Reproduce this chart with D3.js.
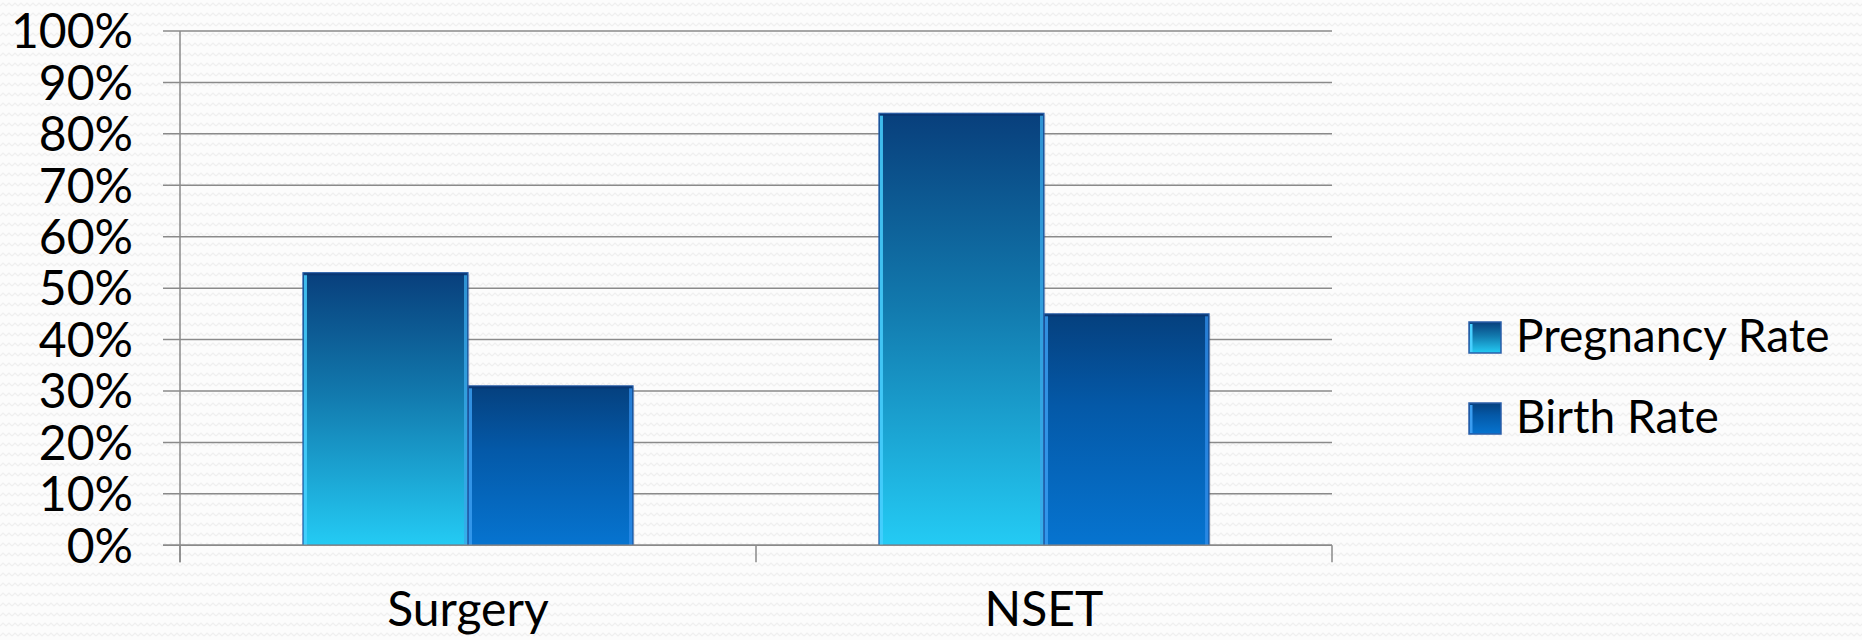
<!DOCTYPE html>
<html><head><meta charset="utf-8">
<script src="https://cdn.jsdelivr.net/npm/d3@7"></script>
<style>
html,body{margin:0;padding:0;background:#fbfbfb;}
svg{display:block;}
text{font-family:Lato,"Open Sans",sans-serif;fill:#000;}
</style></head>
<body>
<svg id="chart" width="1862" height="640"></svg>
<script>
const categories = ["Surgery", "NSET"];
const seriesNames = ["Pregnancy Rate", "Birth Rate"];
const pregnancyRate = [0.53, 0.84];
const birthRate = [0.31, 0.45];
const yTicks = [0, 0.1, 0.2, 0.3, 0.4, 0.5, 0.6, 0.7, 0.8, 0.9, 1.0];

const series = [pregnancyRate, birthRate];
const svg = d3.select("#chart");
const W = 1862, H = 640;
const m = {left: 180, right: 1332, top: 31, bottom: 545.3};

const defs = svg.append("defs");
// subtle zigzag background pattern
const pat = defs.append("pattern").attr("id","bgpat").attr("width",12).attr("height",10)
  .attr("patternUnits","userSpaceOnUse");
pat.append("rect").attr("width",12).attr("height",10).attr("fill","#fcfcfc");
pat.append("path").attr("d","M0,6 L3,3 L6,6 L9,3 L12,6").attr("fill","none")
  .attr("stroke","#efefef").attr("stroke-width",1.2);
svg.append("rect").attr("width",W).attr("height",H).attr("fill","url(#bgpat)");

const gradStops = [
  [["0%","#083f7c"],["45%","#127aae"],["100%","#24cbf4"]],
  [["0%","#05407e"],["40%","#0459a8"],["100%","#0674d0"]]
];
gradStops.forEach((st,i)=>{
  const g = defs.append("linearGradient").attr("id","g"+i).attr("x1",0).attr("y1",0).attr("x2",0).attr("y2",1);
  st.forEach(s=>g.append("stop").attr("offset",s[0]).attr("stop-color",s[1]));
});

const x0 = d3.scaleBand().domain(categories).range([m.left, m.right]).paddingInner(0).paddingOuter(0);
const x1 = d3.scaleBand().domain(seriesNames).range([0, x0.bandwidth()]).paddingOuter(0.745).paddingInner(0);
const y = d3.scaleLinear().domain([0,1]).range([m.bottom, m.top]);

// gridlines
svg.append("g").selectAll("line").data(yTicks).join("line")
  .attr("x1", m.left-17).attr("x2", m.right)
  .attr("y1", d=>y(d)).attr("y2", d=>y(d))
  .attr("stroke","#8a8a8a").attr("stroke-width",1.5);

// y axis labels
const yAxis = d3.axisLeft(y).tickValues(yTicks).tickFormat(d3.format(".0%")).tickSize(0).tickPadding(0);
const ga = svg.append("g").attr("transform",`translate(${m.left-47},0)`).call(yAxis);
ga.select(".domain").remove();
ga.selectAll("text").attr("font-size",48).attr("fill","#000").attr("dy","0.35em")
  .style("font-family","Lato, sans-serif");

// vertical axis
svg.append("line").attr("x1",m.left).attr("x2",m.left).attr("y1",m.top).attr("y2",m.bottom+17)
  .attr("stroke","#8a8a8a").attr("stroke-width",1.5);
// category ticks
const catTicks = [m.left, ...categories.map(c=>x0(c)+x0.bandwidth())];
svg.append("g").selectAll("line").data(catTicks).join("line")
  .attr("x1",d=>d).attr("x2",d=>d).attr("y1",m.bottom).attr("y2",m.bottom+17)
  .attr("stroke","#8a8a8a").attr("stroke-width",1.5);

// bars
const groups = svg.append("g").selectAll("g").data(categories).join("g")
  .attr("transform", c=>`translate(${x0(c)},0)`);
groups.each(function(c, ci){
  const g = d3.select(this);
  seriesNames.forEach((s, si)=>{
    const v = series[si][ci];
    const bx = x1(s), bw = x1.bandwidth(), by = y(v), bh = y(0)-y(v);
    // shadow
    g.append("rect").attr("x",bx+2).attr("y",by+2).attr("width",bw).attr("height",bh-2)
      .attr("fill","#000").attr("opacity",0.07);
    g.append("rect").attr("x",bx).attr("y",by).attr("width",bw).attr("height",bh)
      .attr("fill",`url(#g${si})`).attr("stroke","#2a5ea8").attr("stroke-width",1.2);
    // left highlight bevel
    g.append("rect").attr("x",bx+1).attr("y",by+2).attr("width",3).attr("height",bh-2)
      .attr("fill", si===0 ? "#49d0ff" : "#3a9cf0").attr("opacity",0.85);
    // right bevel
    g.append("rect").attr("x",bx+bw-4).attr("y",by+2).attr("width",3).attr("height",bh-2)
      .attr("fill", si===0 ? "#3aa8e8" : "#2f8ce8").attr("opacity",0.8);
    // top bevel
    g.append("rect").attr("x",bx+1).attr("y",by+0.6).attr("width",bw-2).attr("height",2)
      .attr("fill","#0a2f6a").attr("opacity",0.6);
  });
});

// redraw baseline over bars
svg.append("line").attr("x1",m.left-17).attr("x2",m.right).attr("y1",y(0)).attr("y2",y(0))
  .attr("stroke","#8a8a8a").attr("stroke-width",1.5);

// category labels
svg.append("g").selectAll("text").data(categories).join("text")
  .attr("x", c=>x0(c)+x0.bandwidth()/2).attr("y",626)
  .attr("text-anchor","middle").attr("font-size",48).text(d=>d);

// legend
const lg = svg.append("g");
seriesNames.forEach((s,i)=>{
  const ly = 337 + i*81;
  lg.append("rect").attr("x",1469).attr("y",ly-15).attr("width",32).attr("height",31)
    .attr("fill",`url(#g${i})`).attr("stroke","#2a5ea8").attr("stroke-width",1.5);
  lg.append("rect").attr("x",1470).attr("y",ly-13).attr("width",2.5).attr("height",28)
    .attr("fill", i===0 ? "#49d0ff" : "#3a9cf0");
  lg.append("text").attr("x",1516).attr("y",ly+15).attr("font-size",46).text(s);
});
</script>
</body></html>
